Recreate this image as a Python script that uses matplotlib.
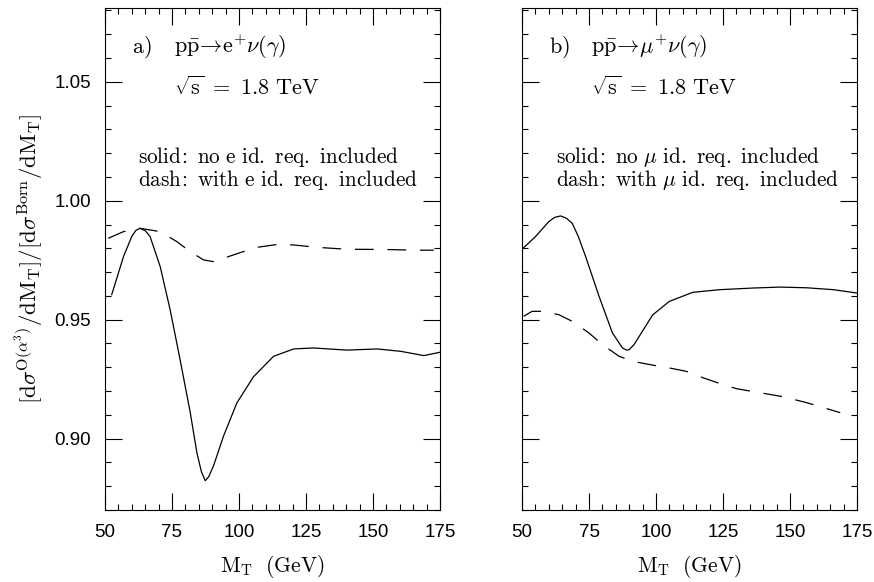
import numpy as np
import matplotlib
matplotlib.use("Agg")
import matplotlib.pyplot as plt

plt.rcParams['mathtext.fontset'] = 'cm'
plt.rcParams['font.family'] = ['Liberation Sans', 'DejaVu Sans']

# panel a) electron channel
mt_a_solid = [52.5, 56.9, 60.0, 61.5, 63.1, 65.0, 66.8, 70.6, 74.3, 78.0, 81.8,
              84.3, 86.0, 87.4, 88.7, 90.5, 94.2, 99.2, 105.4, 112.9, 120.4,
              127.9, 140.3, 151.5, 160.3, 169.0, 175.0]
r_a_solid = [0.9605, 0.9765, 0.9850, 0.9875, 0.9884, 0.9874, 0.9850, 0.9723,
             0.9542, 0.9333, 0.9110, 0.8940, 0.8860, 0.8823, 0.8840, 0.8886,
             0.9010, 0.9150, 0.9260, 0.9346, 0.9377, 0.9381, 0.9372, 0.9377,
             0.9367, 0.9349, 0.9363]
mt_a_dash = [51.2, 56.9, 63.1, 70.6, 76.8, 81.8, 86.8, 90.5, 94.2, 100.5, 106.7,
             114.2, 120.4, 129.1, 140.3, 154.0, 166.5, 172.7]
r_a_dash = [0.9842, 0.9870, 0.9884, 0.9870, 0.9828, 0.9786, 0.9751, 0.9744,
            0.9758, 0.9782, 0.9804, 0.9816, 0.9814, 0.9804, 0.9796, 0.9795,
            0.9792, 0.9792]

# panel b) muon channel
mt_b_solid = [50.0, 55.0, 60.0, 62.2, 64.4, 66.5, 68.75, 71.0, 73.75, 78.75,
              83.75, 87.5, 89.0, 90.0, 91.8, 93.75, 98.75, 105.0, 113.75,
              123.75, 136.25, 146.25, 156.25, 166.25, 175.0]
r_b_solid = [0.9796, 0.9849, 0.9912, 0.9930, 0.9936, 0.9927, 0.9905, 0.9850,
             0.9765, 0.9598, 0.9444, 0.9381, 0.9372, 0.9374, 0.9395, 0.9430,
             0.9520, 0.9577, 0.9615, 0.9626, 0.9633, 0.9637, 0.9634, 0.9626,
             0.9612]
mt_b_dash = [50.6, 53.75, 57.5, 63.75, 68.75, 75.0, 80.0, 86.25, 91.25, 98.75,
             105.0, 111.25, 117.5, 123.75, 130.0, 138.75, 147.5, 156.25,
             163.75, 168.75]
r_b_dash = [0.9514, 0.9535, 0.9535, 0.9521, 0.9493, 0.9444, 0.9395, 0.9346,
            0.9325, 0.9309, 0.9297, 0.9283, 0.9256, 0.9232, 0.9210, 0.9193,
            0.9176, 0.9151, 0.9126, 0.9109]

panels = [
    (r"$\mathrm{a)}$", r"$\mathrm{p\bar{p}}\!\rightarrow\!\mathrm{e}^{+}\nu(\gamma)$",
     r"$\mathrm{solid{\!:}\ no\ e\ id.\ req.\ included}$",
     r"$\mathrm{dash{\!:}\ with\ e\ id.\ req.\ included}$",
     mt_a_solid, r_a_solid, mt_a_dash, r_a_dash),
    (r"$\mathrm{b)}$", r"$\mathrm{p\bar{p}}\!\rightarrow\!\mu^{+}\nu(\gamma)$",
     r"$\mathrm{solid{\!:}\ no\ }\mu\mathrm{\ id.\ req.\ included}$",
     r"$\mathrm{dash{\!:}\ with\ }\mu\mathrm{\ id.\ req.\ included}$",
     mt_b_solid, r_b_solid, mt_b_dash, r_b_dash),
]

W, H = 874, 582
fig = plt.figure(figsize=(W / 100, H / 100), dpi=100)
lefts = [105, 522]

for k, (tag, proc, s1, s2, xs, ys, xd, yd) in enumerate(panels):
    ax = fig.add_axes([lefts[k] / W, 1 - 510 / H, 335 / W, 502 / H])
    ax.plot(xs, ys, color='black', lw=0.9)
    ax.plot(xd, yd, color='black', lw=0.9, dashes=(15, 11))
    ax.set_xlim(50, 175)
    ax.set_ylim(0.870, 1.081)
    ax.set_xticks(np.arange(50, 176, 25))
    ax.set_xticks(np.arange(50, 176, 5), minor=True)
    ax.set_yticks([0.90, 0.95, 1.00, 1.05])
    ax.set_yticks(np.arange(0.87, 1.08, 0.01), minor=True)
    ax.tick_params(which='both', direction='in', top=True, right=True,
                   width=0.8, labelsize=13.5, pad=10)
    ax.tick_params(which='major', length=12)
    ax.tick_params(which='minor', length=4.5)
    if k == 0:
        ax.set_yticklabels(["0.90", "0.95", "1.00", "1.05"])
        ax.set_ylabel(r"$[\mathrm{d}\sigma^{\mathrm{O}(\alpha^3)}/\mathrm{dM_T}]/"
                      r"[\mathrm{d}\sigma^{\mathrm{Born}}/\mathrm{dM_T}]$",
                      fontsize=16.5, labelpad=6)
    else:
        ax.set_yticklabels([])
    ax.set_xlabel(r"$\mathrm{M_T\ \ (GeV)}$", fontsize=15.5, labelpad=9)
    for sp in ax.spines.values():
        sp.set_linewidth(0.8)

    ax.text(0.08, 0.922, tag, transform=ax.transAxes, fontsize=16, va='center')
    ax.text(0.205, 0.922, proc, transform=ax.transAxes, fontsize=16, va='center')
    ax.text(0.205, 0.84, r"$\sqrt{\mathrm{s}}\ =\ 1.8\ \mathrm{TeV}$",
            transform=ax.transAxes, fontsize=16, va='center')
    ax.text(0.10, 0.703, s1, transform=ax.transAxes, fontsize=15.3, va='center')
    ax.text(0.10, 0.657, s2, transform=ax.transAxes, fontsize=15.3, va='center')

fig.savefig("out.png", dpi=100)
